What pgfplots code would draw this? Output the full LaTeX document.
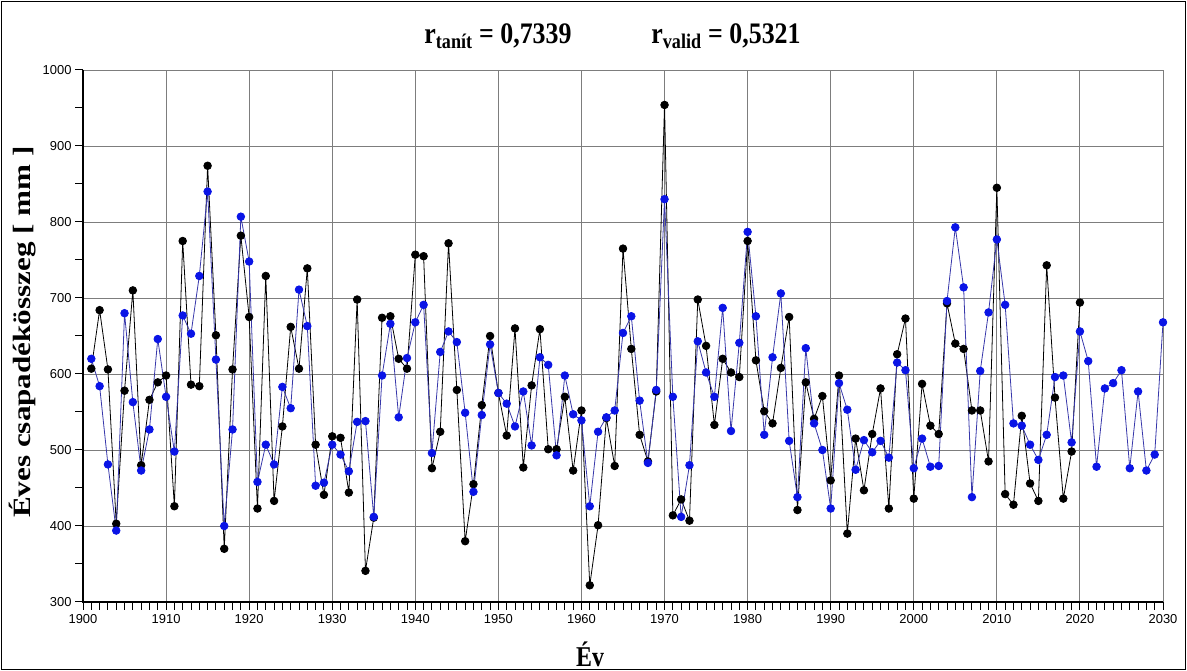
\documentclass[border=0pt]{standalone}
\usepackage{pgfplots}
\pgfplotsset{compat=1.18}
\usepackage{pgfplotstable}
\usepackage{fontspec}
\setmainfont{Liberation Serif}
\newfontfamily\arialfont{Liberation Sans}

\definecolor{modblue}{RGB}{10,20,230}
\definecolor{modline}{RGB}{55,55,170}
\definecolor{gridgray}{RGB}{125,125,125}

% Observed annual precipitation (mm)
\pgfplotstableread{
year val
1901 607
1902 684
1903 606
1904 403
1905 578
1906 710
1907 480
1908 566
1909 589
1910 598
1911 426
1912 775
1913 586
1914 584
1915 874
1916 651
1917 370
1918 606
1919 782
1920 675
1921 423
1922 729
1923 433
1924 531
1925 662
1926 607
1927 739
1928 507
1929 441
1930 518
1931 516
1932 444
1933 698
1934 341
1935 411
1936 674
1937 676
1938 620
1939 607
1940 757
1941 755
1942 476
1943 524
1944 772
1945 579
1946 380
1947 455
1948 559
1949 650
1950 575
1951 519
1952 660
1953 477
1954 585
1955 659
1956 501
1957 501
1958 570
1959 473
1960 552
1961 322
1962 401
1963 542
1964 479
1965 765
1966 633
1967 520
1968 485
1969 577
1970 954
1971 414
1972 435
1973 407
1974 698
1975 637
1976 533
1977 620
1978 602
1979 596
1980 775
1981 618
1982 551
1983 535
1984 608
1985 675
1986 421
1987 589
1988 541
1989 571
1990 460
1991 598
1992 390
1993 515
1994 447
1995 521
1996 581
1997 423
1998 626
1999 673
2000 436
2001 587
2002 532
2003 521
2004 693
2005 640
2006 633
2007 552
2008 552
2009 485
2010 845
2011 442
2012 428
2013 545
2014 456
2015 433
2016 743
2017 569
2018 436
2019 498
2020 694
}\observed

% Modelled annual precipitation (mm)
\pgfplotstableread{
year val
1901 620
1902 584
1903 481
1904 394
1905 680
1906 563
1907 473
1908 527
1909 646
1910 570
1911 498
1912 677
1913 653
1914 729
1915 840
1916 619
1917 400
1918 527
1919 807
1920 748
1921 458
1922 507
1923 481
1924 583
1925 555
1926 711
1927 663
1928 453
1929 457
1930 507
1931 494
1932 472
1933 537
1934 538
1935 412
1936 598
1937 666
1938 543
1939 621
1940 668
1941 691
1942 496
1943 629
1944 656
1945 642
1946 549
1947 445
1948 546
1949 639
1950 575
1951 561
1952 531
1953 577
1954 506
1955 622
1956 612
1957 493
1958 598
1959 547
1960 539
1961 426
1962 524
1963 543
1964 552
1965 654
1966 676
1967 565
1968 483
1969 579
1970 830
1971 570
1972 412
1973 480
1974 643
1975 602
1976 570
1977 687
1978 525
1979 641
1980 787
1981 676
1982 520
1983 622
1984 706
1985 512
1986 438
1987 634
1988 535
1989 500
1990 423
1991 588
1992 553
1993 474
1994 513
1995 497
1996 512
1997 490
1998 615
1999 605
2000 476
2001 515
2002 478
2003 479
2004 696
2005 793
2006 714
2007 438
2008 604
2009 681
2010 777
2011 691
2012 535
2013 532
2014 507
2015 487
2016 520
2017 596
2018 598
2019 510
2020 656
2021 617
2022 478
2023 581
2024 588
2025 605
2026 476
2027 577
2028 473
2029 494
2030 668
}\modelled

\begin{document}
\begin{tikzpicture}
\useasboundingbox (0bp,0bp) rectangle (1187bp,671bp);
\draw[line width=1.6bp] (1.5bp,1.5bp) rectangle (1185.5bp,669.5bp);
\begin{axis}[
  at={(83bp,69bp)}, anchor=south west,
  scale only axis, width=1080bp, height=532bp,
  xmin=1900, xmax=2030, ymin=300, ymax=1000,
  xtick distance=10, ytick distance=100,
  axis line style={draw=none},
  major tick length=0pt,
  grid=major, major grid style={gridgray, line width=0.9bp},
  ticklabel style={font=\arialfont\fontsize{13}{13}\selectfont},
  xticklabel style={yshift=-9bp},
  yticklabel style={xshift=-8bp},
  /pgf/number format/assume math mode=true,
  /pgf/number format/1000 sep={},
  clip=false,
]
\addplot[black, line width=0.8bp, mark=*, mark size=3.8bp,
  mark options={draw=black, fill=black}] table[x=year, y=val] {\observed};
\addplot[modline, line width=0.8bp, mark=*, mark size=3.8bp,
  mark options={draw=modblue, fill=modblue}] table[x=year, y=val] {\modelled};
\end{axis}
% axis lines on the left and bottom, yearly ticks below, 50 mm ticks on the left
\draw[black, line width=1.2bp] (83bp,601bp) -- (83bp,69bp) -- (1163bp,69bp);
\foreach \i in {0,...,130}{
  \pgfmathsetmacro\xx{83+\i*8.307692}
  \draw[black, line width=1bp] (\xx bp,69bp) -- (\xx bp,61bp);
}
\foreach \j in {0,...,14}{
  \pgfmathsetmacro\yy{69+\j*38}
  \draw[black, line width=1bp] (83bp,\yy bp) -- (75bp,\yy bp);
}
\node[font=\bfseries\fontsize{26}{26}\selectfont] at (498bp,635bp) {\scalebox{1}[1.15]{r\textsubscript{tanít} = 0,7339}};
\node[font=\bfseries\fontsize{26}{26}\selectfont] at (726bp,635bp) {\scalebox{1}[1.15]{r\textsubscript{valid} = 0,5321}};
\node[font=\bfseries\fontsize{24}{24}\selectfont] at (590bp,17bp) {\scalebox{1}[1.2]{Év}};
\node[rotate=90, font=\bfseries\fontsize{25}{25}\selectfont] at (23bp,339bp) {\scalebox{1.25}[1]{Éves csapadékösszeg [ mm ]}};
\end{tikzpicture}
\end{document}
